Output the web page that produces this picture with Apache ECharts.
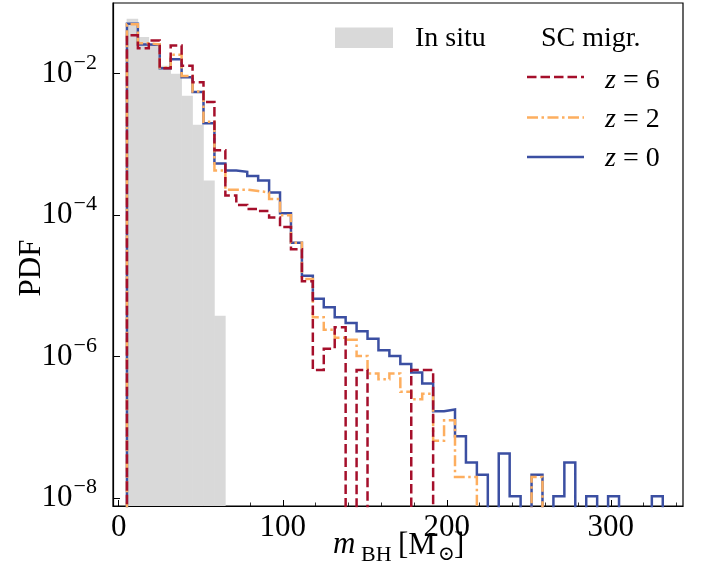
<!DOCTYPE html>
<html><head><meta charset="utf-8">
<script src="https://cdn.jsdelivr.net/npm/echarts@6/dist/echarts.min.js"></script>
<style>html,body{margin:0;padding:0;background:#fff}#c{width:713px;height:576px}</style>
</head><body><div id="c"></div>
<script>
// Bin edges of the histograms (M_sun)
const binEdges = [5, 11.67, 18.33, 25, 31.67, 38.33, 45, 51.67, 58.33, 65, 71.67, 78.33, 85, 91.67, 98.33,
  105, 111.67, 118.33, 125, 131.67, 138.33, 145, 151.67, 158.33, 165, 171.67, 178.33, 185, 191.67, 198.33,
  205, 211.67, 218.33, 225, 231.67, 238.33, 245, 251.67, 258.33, 265, 271.67, 278.33, 285, 291.67, 298.33,
  305, 311.67, 318.33, 325, 331.67, 338.33];

// PDF per bin
const inSitu = [6.0e-2, 3.3e-2, 2.6e-2, 1.3e-2, 1.0e-2, 4.9e-3, 1.9e-3, 3.1e-4, 3.8e-6];

const scZ0 = [5.1e-2, 2.6e-2, 2.57e-2, 1.2e-2, 1.6e-2, 8.9e-3, 5.5e-3, 2.0e-3, 5.4e-4, 4.3e-4,
  4.1e-4, 3.6e-4, 3.1e-4, 2.1e-4, 1.07e-4, 4.1e-5, 1.4e-5, 6.6e-6, 5.0e-6, 3.6e-6,
  3.0e-6, 2.3e-6, 1.8e-6, 1.23e-6, 1.02e-6, 7.9e-7, 6.0e-7, 4.2e-7, 1.7e-7, 1.8e-7,
  7.5e-8, 3.2e-8, 2.15e-8, 0, 4.3e-8, 1.07e-8, 0, 2.15e-8, 0, 1.07e-8,
  3.2e-8, 0, 1.07e-8, 0, 1.07e-8, 0, 0, 0, 1.07e-8];

const scZ2 = [5.0e-2, 2.7e-2, 2.6e-2, 1.23e-2, 1.86e-2, 9.3e-3, 5.6e-3, 2.1e-3, 4.3e-4, 2.3e-4,
  2.3e-4, 2.2e-4, 2.1e-4, 1.7e-4, 1.0e-4, 4.1e-5, 1.26e-5, 3.6e-6, 2.4e-6, 1.86e-6,
  1.74e-6, 1.02e-6, 5.8e-7, 4.8e-7, 5.8e-7, 3.2e-7, 2.5e-7, 3.0e-7, 6.5e-8, 1.26e-7,
  2.0e-8, 2.0e-8, 0, 0, 0, 0, 0, 2.0e-8];

const scZ6 = [3.5e-2, 2.3e-2, 2.95e-2, 1.2e-2, 2.5e-2, 1.3e-2, 7.6e-3, 4.0e-3, 8.3e-4, 1.9e-4,
  1.4e-4, 1.23e-4, 1.15e-4, 9.3e-5, 6.8e-5, 3.3e-5, 1.17e-5, 6.5e-7, 1.3e-6, 2.6e-6,
  0, 6.5e-7, 0, 0, 0, 0, 6.5e-7, 6.5e-7];

const xTicks = [0, 100, 200, 300];
const xMinorTicks = [20, 40, 60, 80, 120, 140, 160, 180, 220, 240, 260, 280, 320, 340];
const yTickExps = [-8, -6, -4, -2];

const X_MIN = -3.5, X_MAX = 344;
const Y_MIN = -8.11, Y_MAX = -1.0;   // log10(PDF)
const FLOOR = -14;
const FONT = 'Liberation Serif';
const C_RED = '#a50f2b', C_ORA = '#fdae5f', C_BLU = '#3b4fa2', C_GRAY = '#d9d9d9';

function lg(v) { return v > 0 ? Math.log10(v) : FLOOR; }
function stepData(vals) {
  const d = [[binEdges[0], FLOOR]];
  vals.forEach((v, i) => d.push([binEdges[i], lg(v)]));
  d.push([binEdges[vals.length], FLOOR]);
  return d;
}
function stepSeries(name, vals, color, dash, z) {
  return {
    name, type: 'line', step: 'end', data: stepData(vals), symbol: 'none', clip: true, z,
    lineStyle: { color, width: 2.5, type: dash, cap: 'butt', join: 'miter' }
  };
}

const chart = echarts.init(document.getElementById('c'), null, { renderer: 'canvas' });
const option = {
  animation: false,
  backgroundColor: '#fff',
  grid: { left: 113, top: 3, width: 570, height: 503, show: true, borderColor: '#000', borderWidth: 1.2, backgroundColor: 'transparent' },
  xAxis: [{
    type: 'value', min: X_MIN, max: X_MAX,
    axisLine: { show: true, onZero: false, lineStyle: { color: '#000', width: 1.2 } },
    axisTick: { show: true, inside: true, length: 6, customValues: xTicks, lineStyle: { color: '#000', width: 1 } },
    axisLabel: { show: true, customValues: xTicks, fontFamily: FONT, fontSize: 31, color: '#000', margin: 6 },
    splitLine: { show: false }
  }, {
    type: 'value', min: X_MIN, max: X_MAX, position: 'bottom',
    axisLine: { show: false, onZero: false },
    axisTick: { show: true, inside: true, length: 3.5, customValues: xMinorTicks, lineStyle: { color: '#000', width: 0.8 } },
    axisLabel: { show: false },
    splitLine: { show: false }
  }],
  yAxis: {
    type: 'value', min: Y_MIN, max: Y_MAX,
    axisLine: { show: true, onZero: false, lineStyle: { color: '#000', width: 1.2 } },
    axisTick: { show: true, inside: true, length: 7, customValues: yTickExps, lineStyle: { color: '#000', width: 1 } },
    axisLabel: {
      show: true, customValues: yTickExps, margin: 16, color: '#000',
      formatter: v => '{b|10}{s|\u2212' + Math.abs(Math.round(v)) + '}',
      rich: {
        b: { fontFamily: FONT, fontSize: 31, color: '#000', lineHeight: 31 },
        s: { fontFamily: FONT, fontSize: 22, color: '#000', lineHeight: 22, padding: [0, 0, 22, 1] }
      }
    },
    splitLine: { show: false }
  },
  series: [
    {
      name: 'In situ', type: 'custom', z: 1, clip: true,
      data: inSitu.map((v, i) => [binEdges[i], binEdges[i + 1], lg(v)]),
      encode: { x: [0, 1], y: 2 },
      renderItem: (params, api) => {
        const p0 = api.coord([api.value(0), api.value(2)]);
        const p1 = api.coord([api.value(1), Y_MIN]);
        return { type: 'rect', shape: { x: p0[0] - 0.3, y: p0[1], width: p1[0] - p0[0] + 0.6, height: p1[1] - p0[1] },
          style: { fill: C_GRAY } };
      }
    },
    stepSeries('z = 0', scZ0, C_BLU, 'solid', 3),
    stepSeries('z = 2', scZ2, C_ORA, [11, 3.5, 2.5, 3.5], 4),
    stepSeries('z = 6', scZ6, C_RED, [9.5, 4], 5)
  ],
  graphic: [
    // axis titles
    { type: 'text', x: 32, y: 268, rotation: Math.PI / 2,
      style: { text: 'PDF', fontFamily: FONT, fontSize: 31, fill: '#000', textAlign: 'center', textVerticalAlign: 'middle' } },
    { type: 'text', x: 333, y: 545, style: { text: 'm', fontFamily: FONT, fontStyle: 'italic', fontSize: 31, fill: '#000', textAlign: 'left', textVerticalAlign: 'middle' } },
    { type: 'text', x: 361, y: 555, style: { text: 'BH', fontFamily: FONT, fontSize: 22, fill: '#000', textAlign: 'left', textVerticalAlign: 'middle' } },
    { type: 'text', x: 398, y: 546, style: { text: '[M', fontFamily: FONT, fontSize: 31, fill: '#000', textAlign: 'left', textVerticalAlign: 'middle' } },
    { type: 'text', x: 438, y: 555, style: { text: '\u2299', fontFamily: 'DejaVu Serif', fontSize: 20, fill: '#000', textAlign: 'left', textVerticalAlign: 'middle' } },
    { type: 'text', x: 454, y: 546, style: { text: ']', fontFamily: FONT, fontSize: 31, fill: '#000', textAlign: 'left', textVerticalAlign: 'middle' } },
    // legend
    { type: 'rect', shape: { x: 335, y: 27.5, width: 58, height: 20.5 }, style: { fill: C_GRAY } },
    { type: 'text', x: 415, y: 39, style: { text: 'In situ', fontFamily: FONT, fontSize: 28, fill: '#000', textAlign: 'left', textVerticalAlign: 'middle' } },
    { type: 'text', x: 541, y: 39, style: { text: 'SC migr.', fontFamily: FONT, fontSize: 28, fill: '#000', textAlign: 'left', textVerticalAlign: 'middle' } },
    { type: 'line', shape: { x1: 527, y1: 77, x2: 584, y2: 77 }, style: { stroke: C_RED, lineWidth: 2.5, lineDash: [9.5, 4] } },
    { type: 'line', shape: { x1: 527, y1: 117.5, x2: 584, y2: 117.5 }, style: { stroke: C_ORA, lineWidth: 2.5, lineDash: [11, 3.5, 2.5, 3.5] } },
    { type: 'line', shape: { x1: 527, y1: 157, x2: 584, y2: 157 }, style: { stroke: C_BLU, lineWidth: 2.5 } },
    { type: 'text', x: 605, y: 81, style: { text: '{i|z}{r| = 6}', rich: { i: { fontFamily: FONT, fontStyle: 'italic', fontSize: 28 }, r: { fontFamily: FONT, fontSize: 28 } }, fill: '#000', textAlign: 'left', textVerticalAlign: 'middle' } },
    { type: 'text', x: 605, y: 120, style: { text: '{i|z}{r| = 2}', rich: { i: { fontFamily: FONT, fontStyle: 'italic', fontSize: 28 }, r: { fontFamily: FONT, fontSize: 28 } }, fill: '#000', textAlign: 'left', textVerticalAlign: 'middle' } },
    { type: 'text', x: 605, y: 159, style: { text: '{i|z}{r| = 0}', rich: { i: { fontFamily: FONT, fontStyle: 'italic', fontSize: 28 }, r: { fontFamily: FONT, fontSize: 28 } }, fill: '#000', textAlign: 'left', textVerticalAlign: 'middle' } }
  ]
};
chart.setOption(option);
</script>
</body></html>
